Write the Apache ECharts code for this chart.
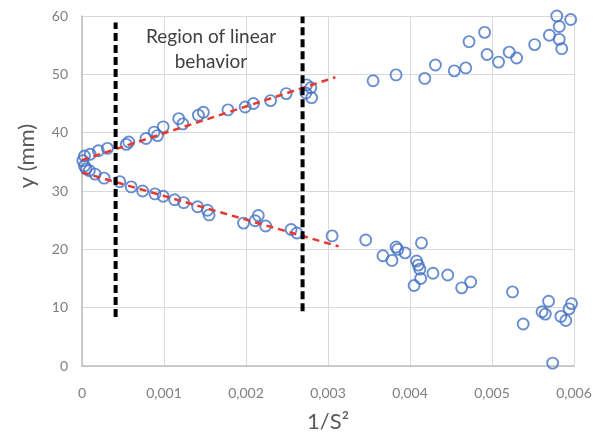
<!DOCTYPE html>
<html>
<head>
<meta charset="utf-8">
<script src="https://cdn.jsdelivr.net/npm/echarts@6/dist/echarts.min.js"></script>
<style>html,body{margin:0;padding:0;background:#fff;}#c{width:606px;height:438px;}</style>
</head>
<body>
<div id="c"></div>
<script>
// Data
const upperBranch = [
  [0.00003,36.0],[0.00001,35.2],[0.00003,34.3],[0.00010,36.3],[0.00020,36.9],[0.00031,37.3],
  [0.00054,38.0],[0.00057,38.4],[0.00078,39.0],[0.00088,40.1],[0.00092,39.5],[0.00099,41.0],
  [0.00118,42.4],[0.00123,41.5],[0.00142,43.0],[0.00148,43.5],[0.00178,43.9],[0.00199,44.4],
  [0.00209,45.0],[0.00230,45.5],[0.00249,46.7],[0.00274,48.2],[0.00279,47.7],[0.00273,46.8],
  [0.00280,46.0],[0.00355,48.9],[0.00383,49.9],[0.00418,49.3],[0.00431,51.6],[0.00454,50.6],
  [0.00468,51.1],[0.00472,55.6],[0.00491,57.2],[0.00494,53.4],[0.00508,52.1],[0.00521,53.8],
  [0.00530,52.8],[0.00552,55.1],[0.00570,56.7],[0.00582,58.2],[0.00582,56.0],[0.00585,54.4],
  [0.00579,60.0],[0.00596,59.4]
];
const lowerBranch = [
  [0.00009,33.5],[0.00005,33.8],[0.00016,32.9],[0.00027,32.2],[0.00046,31.6],[0.00060,30.7],
  [0.00074,30.0],[0.00089,29.5],[0.00099,29.1],[0.00113,28.5],[0.00124,28.0],[0.00141,27.3],
  [0.00153,26.7],[0.00155,25.9],[0.00197,24.5],[0.00211,24.9],[0.00215,25.8],[0.00224,24.0],
  [0.00255,23.4],[0.00262,22.8],[0.00305,22.3],[0.00346,21.6],[0.00367,18.9],[0.00378,18.1],
  [0.00383,20.4],[0.00385,20.0],[0.00394,19.4],[0.00414,21.1],[0.00408,18.0],[0.00410,17.3],
  [0.00412,16.6],[0.00413,15.0],[0.00405,13.8],[0.00428,15.9],[0.00446,15.6],[0.00463,13.4],
  [0.00474,14.4],[0.00525,12.7],[0.00538,7.2],[0.00561,9.3],[0.00565,8.9],[0.00569,11.1],
  [0.00574,0.5],[0.00584,8.5],[0.00590,7.8],[0.00594,9.8],[0.00597,10.7]
];
const upperFit = [[0,35.3],[0.00309,49.5]];
const lowerFit = [[0,33.2],[0.00313,20.5]];
const leftBound = [[0.00041,8.4],[0.00041,58.9]];
const rightBound = [[0.00269,9.4],[0.00269,59.9]];
const xTicks = {min:0, max:0.006, step:0.001};
const yTicks = {min:0, max:60, step:10};
const regionLabel = 'Region of linear\nbehavior';
const xName = '1/S²';
const yName = 'y (mm)';

const chart = echarts.init(document.getElementById('c'), null, {renderer:'canvas'});
const font = 'Lato, "Open Sans", sans-serif';
const circleStyle = {color:'rgba(0,0,0,0)', borderColor:'#4472c4', borderWidth:1.9};
const scatter = d => ({type:'scatter', data:d, symbol:'circle', symbolSize:11, itemStyle:circleStyle, z:2, silent:true});
const line = (d, color, w, dash, z) => ({type:'line', data:d, symbol:'none', z:z, silent:true,
  lineStyle:{color:color, width:w, type:dash}});
chart.setOption({
  animation:false,
  backgroundColor:'#fff',
  grid:{left:82, right:32, top:16, bottom:70},
  xAxis:{type:'value', min:xTicks.min, max:xTicks.max, interval:xTicks.step,
    name:xName, nameLocation:'middle', nameGap:45,
    nameTextStyle:{fontFamily:font, fontSize:22, color:'#595959'},
    axisLine:{show:true, lineStyle:{color:'#bfbfbf', width:1.5}},
    axisTick:{show:false},
    splitLine:{show:true, lineStyle:{color:'#d9d9d9', width:1}},
    axisLabel:{margin:20, fontFamily:font, fontSize:14, color:'#7f7f7f',
      formatter:v => v === 0 ? '0' : v.toFixed(3).replace('.', ',')}},
  yAxis:{type:'value', min:yTicks.min, max:yTicks.max, interval:yTicks.step,
    name:yName, nameLocation:'middle', nameGap:44,
    nameTextStyle:{fontFamily:font, fontSize:22, color:'#595959', padding:[0,0,0,70]},
    axisLine:{show:true, lineStyle:{color:'#bfbfbf', width:1.5}},
    axisTick:{show:false},
    splitLine:{show:true, lineStyle:{color:'#d9d9d9', width:1}},
    axisLabel:{margin:14, fontFamily:font, fontSize:14, color:'#7f7f7f'}},
  graphic:[{type:'text', x:211, y:49, z:10,
    style:{text:regionLabel, font:'19px ' + font, fill:'#404040', align:'center', verticalAlign:'middle', lineHeight:25}}],
  series:[
    scatter(upperBranch),
    scatter(lowerBranch),
    line(upperFit, '#e8382f', 2.5, [7,5], 3),
    line(lowerFit, '#e8382f', 2.5, [7,5], 3),
    line(leftBound, '#000', 4, [8,4], 4),
    line(rightBound, '#000', 4, [8,4], 4)
  ]
});
</script>
</body>
</html>
